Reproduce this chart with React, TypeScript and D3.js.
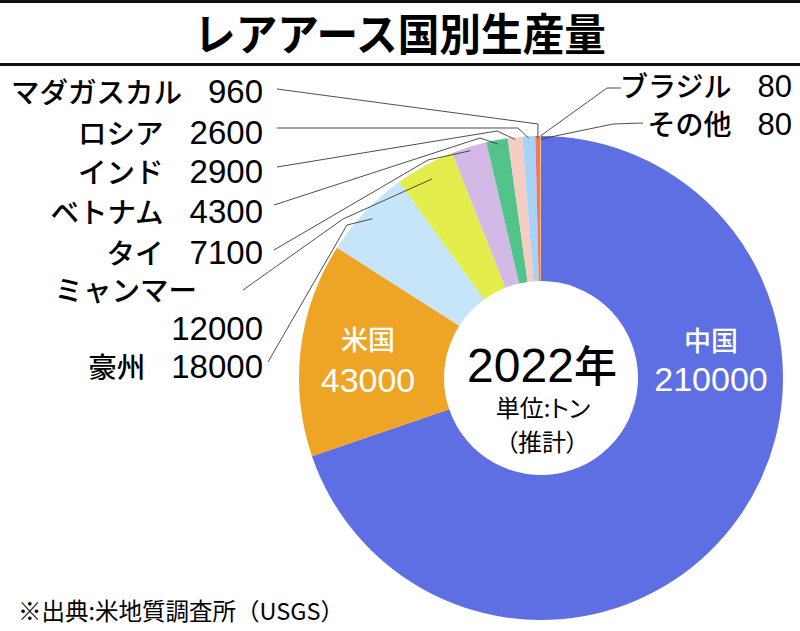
import React from 'react';
import * as d3 from 'd3';

// ---- data ----
const categories = ["中国", "米国", "豪州", "ミャンマー", "タイ", "ベトナム", "インド", "ロシア", "マダガスカル", "ブラジル", "その他"];
const values = [210000, 43000, 18000, 12000, 7100, 4300, 2900, 2600, 960, 80, 80];
const colors = ["#5e6fe4", "#eea424", "#c6e5f9", "#e3ee4c", "#d3b9e6", "#52c48a", "#f6cdc3", "#a8d3f6", "#ee7766", "#f3e340", "#f2a850"];
const titleText = "レアアース国別生産量";
const yearText = "2022";
const yearSuffix = "年";
const unitText = "単位:トン";
const noteText = "（推計）";
const sourceText = "※出典:米地質調査所（USGS）";

// ---- layout ----
const W = 800, H = 631;
const CX = 541, CY = 378, R = 242, R0 = 97;
const JP = "'Noto Sans CJK JP', 'Noto Sans CJK SC', sans-serif";
const NUM = "'Liberation Sans', Arial, sans-serif";

type Leader = { side: 'left' | 'right'; y: number; start: [number, number]; via: [number, number][]; rEnd: number; twoLine?: boolean };
const leaderLayout: Record<string, Leader> = {
  "マダガスカル": { side: 'left', y: 103, start: [277, 89], via: [[538, 124]], rEnd: 240 },
  "ロシア": { side: 'left', y: 144, start: [277, 128], via: [[518, 128]], rEnd: 240 },
  "インド": { side: 'left', y: 183, start: [277, 167], via: [[497, 131]], rEnd: 240 },
  "ベトナム": { side: 'left', y: 223, start: [274, 205], via: [[480, 138]], rEnd: 238 },
  "タイ": { side: 'left', y: 264, start: [274, 250], via: [[428, 160]], rEnd: 238 },
  "ミャンマー": { side: 'left', y: 301, start: [243, 290], via: [[343, 219]], rEnd: 227, twoLine: true },
  "豪州": { side: 'left', y: 378, start: [268, 362], via: [[347, 225]], rEnd: 232 },
  "ブラジル": { side: 'right', y: 97, start: [621, 88], via: [[607, 88]], rEnd: 242 },
  "その他": { side: 'right', y: 135, start: [643, 123], via: [[613, 124]], rEnd: 239 },
};
const insideLayout: Record<string, { x: number; y1: number; y2: number }> = {
  "中国": { x: 711, y1: 351, y2: 391 },
  "米国": { x: 368, y1: 350, y2: 392 },
};

export default function App() {
  const pie = d3.pie<number>().sort(null).value(d => d).startAngle(0).endAngle(2 * Math.PI);
  const arcs = pie(values);
  const arcGen = d3.arc<d3.PieArcDatum<number>>().innerRadius(R0).outerRadius(R);
  const pt = (a: number, r: number): [number, number] => [CX + r * Math.sin(a), CY - r * Math.cos(a)];
  const line = d3.line();

  return (
    <svg width={W} height={H} viewBox={`0 0 ${W} ${H}`}
      style={{ position: 'absolute', left: 0, top: 0, background: '#fff' }}>
      <rect x={0} y={0} width={W} height={H} fill="#fff" />
      {/* title */}
      <rect x={0} y={0} width={W} height={3} fill="#111" />
      <rect x={0} y={63} width={W} height={3} fill="#111" />
      <text x={400} y={51} textAnchor="middle" fontFamily={JP} fontWeight={700} fontSize={44}
        textLength={412} lengthAdjust="spacingAndGlyphs" fill="#000">{titleText}</text>

      {/* donut */}
      <g transform={`translate(${CX},${CY})`}>
        {arcs.map((a, i) => (
          <path key={categories[i]} d={arcGen(a) || ''} fill={colors[i]} />
        ))}
      </g>

      {/* leader lines */}
      {arcs.map((a, i) => {
        const L = leaderLayout[categories[i]];
        if (!L) return null;
        const mid = (a.startAngle + a.endAngle) / 2;
        const pts: [number, number][] = [L.start, ...L.via, pt(mid, L.rEnd)];
        return <path key={'l' + i} d={line(pts) || ''} fill="none" stroke="#3a3a3a" strokeWidth={0.9} />;
      })}

      {/* outside labels */}
      {categories.map((c, i) => {
        const L = leaderLayout[c];
        if (!L) return null;
        const xr = L.side === 'left' ? 263 : 792;
        if (L.twoLine) {
          return (
            <g key={'t' + i}>
              <text x={197} y={L.y} textAnchor="end" fontFamily={JP} fontWeight={500} fontSize={28.5} fill="#000">{c}</text>
              <text x={xr} y={L.y + 39} textAnchor="end" fontFamily={NUM} fontSize={33} fill="#000">{String(values[i])}</text>
            </g>
          );
        }
        const right = L.side === 'right';
        return (
          <text key={'t' + i} x={xr} y={L.y} textAnchor="end" fill="#000">
            <tspan fontFamily={JP} fontWeight={500} fontSize={right ? 28 : 28.5}>{c}</tspan>
            <tspan dx={26} fontFamily={NUM} fontSize={right ? 31 : 33}>{String(values[i])}</tspan>
          </text>
        );
      })}

      {/* inside labels */}
      {categories.map((c, i) => {
        const P = insideLayout[c];
        if (!P) return null;
        return (
          <g key={'in' + i} fill="#fff">
            <text x={P.x} y={P.y1} textAnchor="middle" fontFamily={JP} fontSize={27} fontWeight={500}>{c}</text>
            <text x={P.x} y={P.y2} textAnchor="middle" fontFamily={NUM} fontSize={34}>{String(values[i])}</text>
          </g>
        );
      })}

      {/* center */}
      <text x={542} y={382} textAnchor="middle" fill="#000">
        <tspan fontFamily={NUM} fontSize={48}>{yearText}</tspan>
        <tspan fontFamily={JP} fontWeight={500} fontSize={43}>{yearSuffix}</tspan>
      </text>
      <text x={543} y={417} textAnchor="middle" fontFamily={JP} fontSize={24} fill="#000"
        style={{ fontFeatureSettings: '"palt"' }}>{unitText}</text>
      <text x={542} y={451} textAnchor="middle" fontFamily={JP} fontSize={24} fill="#000"
        style={{ fontFeatureSettings: '"palt"' }}>{noteText}</text>

      {/* source */}
      <text x={18} y={620} fontFamily={JP} fontSize={23.5} fill="#000">{sourceText}</text>
    </svg>
  );
}
